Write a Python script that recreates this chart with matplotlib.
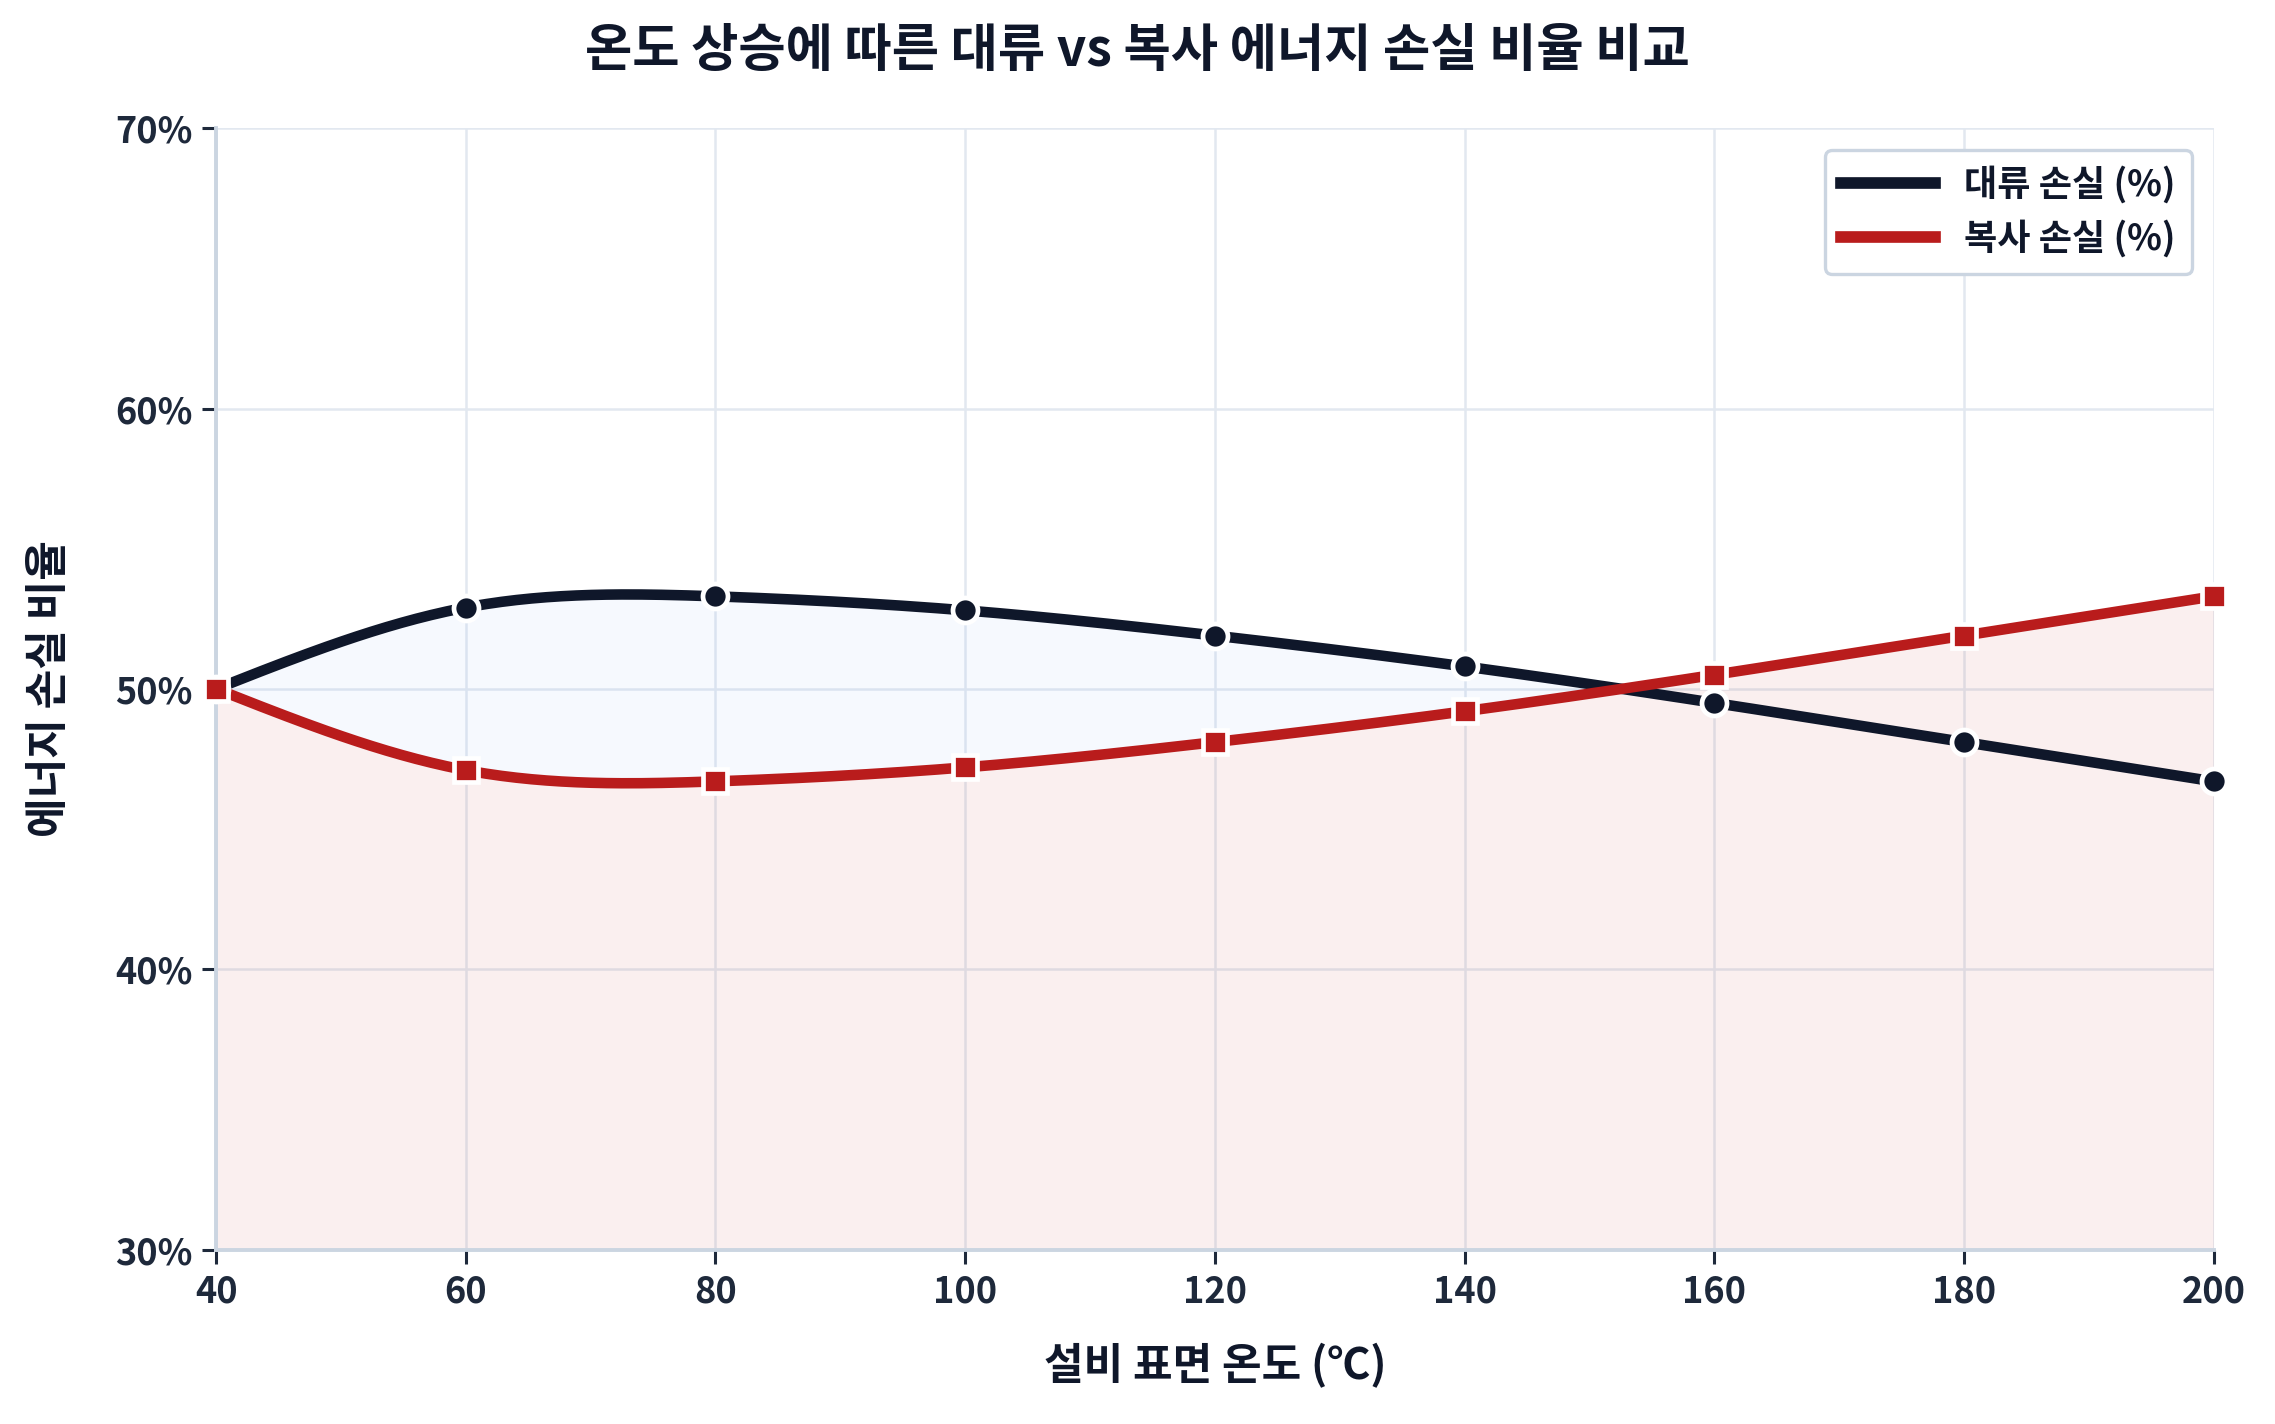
import numpy as np
import matplotlib
matplotlib.use('Agg')
from matplotlib import pyplot as plt
from matplotlib.ticker import FuncFormatter

plt.rcParams['font.family'] = ['Noto Sans CJK KR', 'DejaVu Sans']

temps = [40, 60, 80, 100, 120, 140, 160, 180, 200]
convection = [50.0, 52.9, 53.3, 52.8, 51.9, 50.8, 49.5, 48.1, 46.7]
radiation = [50.0, 47.1, 46.7, 47.2, 48.1, 49.2, 50.5, 51.9, 53.3]

title = '온도 상승에 따른 대류 vs 복사 에너지 손실 비율 비교'
xlabel = '설비 표면 온도 (℃)'
ylabel = '에너지 손실 비율'
conv_label = '대류 손실 (%)'
rad_label = '복사 손실 (%)'

DARK = '#0f172a'
RED = '#b91c1c'
TEXT = '#1e293b'


# natural cubic spline, only used to draw a smooth line through the points
def smooth(x, y, n=400):
   x = np.asarray(x, float)
   y = np.asarray(y, float)
   k = len(x)
   h = np.diff(x)
   A = np.zeros((k, k))
   b = np.zeros(k)
   A[0, 0] = A[-1, -1] = 1
   for i in range(1, k - 1):
      A[i, i-1] = h[i-1]
      A[i, i] = 2 * (h[i-1] + h[i])
      A[i, i+1] = h[i]
      b[i] = 6 * ((y[i+1] - y[i]) / h[i] - (y[i] - y[i-1]) / h[i-1])
   M = np.linalg.solve(A, b)
   xs = np.linspace(x[0], x[-1], n)
   idx = np.clip(np.searchsorted(x, xs) - 1, 0, k - 2)
   x0, x1 = x[idx], x[idx+1]
   hh = x1 - x0
   t0, t1 = x1 - xs, xs - x0
   ys = (M[idx] * t0**3 + M[idx+1] * t1**3) / (6 * hh) \
      + (y[idx] / hh - M[idx] * hh / 6) * t0 \
      + (y[idx+1] / hh - M[idx+1] * hh / 6) * t1
   return xs, ys


fig = plt.figure(figsize=(11.375, 7.12), dpi=200)
ax = fig.add_axes([0.095, 0.1225, 0.878, 0.7875])

xs, conv_s = smooth(temps, convection)
_, rad_s = smooth(temps, radiation)

ax.fill_between(xs, rad_s, 30, color=RED, alpha=0.065, linewidth=0)
ax.fill_between(xs, conv_s, rad_s, where=conv_s >= rad_s, interpolate=True,
                color='#3b82f6', alpha=0.045, linewidth=0)

ax.plot(xs, conv_s, color=DARK, lw=3.8, zorder=3, solid_capstyle='round')
ax.plot(xs, rad_s, color=RED, lw=3.8, zorder=3, solid_capstyle='round')
ax.plot(temps, convection, 'o', color=DARK, ms=9, mec='white', mew=1.7, zorder=4, clip_on=False)
ax.plot(temps, radiation, 's', color=RED, ms=8.5, mec='white', mew=1.7, zorder=4, clip_on=False)

# legend handles
ax.plot([], [], color=DARK, lw=4.2, label=conv_label)
ax.plot([], [], color=RED, lw=4.2, label=rad_label)

ax.set_xlim(40, 200)
ax.set_ylim(30, 70)
ax.set_xticks(temps)
ax.set_yticks([30, 40, 50, 60, 70])
ax.yaxis.set_major_formatter(FuncFormatter(lambda v, p: f'{v:.0f}%'))

ax.grid(True, color='#e2e8f0', lw=0.9)
ax.set_axisbelow(True)
for s in ['top', 'right']:
   ax.spines[s].set_visible(False)
for s in ['left', 'bottom']:
   ax.spines[s].set_color('#cbd5e1')
   ax.spines[s].set_linewidth(1.4)

ax.tick_params(axis='both', colors=TEXT, labelsize=13, length=5, width=1.1)
for lbl in ax.get_xticklabels() + ax.get_yticklabels():
   lbl.set_fontweight('bold')

ax.set_xlabel(xlabel, fontsize=15.5, fontweight='bold', color=DARK, labelpad=12)
ax.set_ylabel(ylabel, fontsize=15.5, fontweight='bold', color=DARK, labelpad=16)
fig.suptitle(title, fontsize=18.5, fontweight='bold', color=DARK, y=0.983)

leg = ax.legend(loc='upper right', fontsize=13, frameon=True, fancybox=True,
                edgecolor='#cbd5e1', framealpha=1, borderpad=0.45,
                handlelength=2.6, borderaxespad=0.6, labelspacing=0.45)
leg.get_frame().set_linewidth(1.2)
for t in leg.get_texts():
   t.set_fontweight('bold')
   t.set_color(DARK)

fig.savefig('out.png', dpi=200)
